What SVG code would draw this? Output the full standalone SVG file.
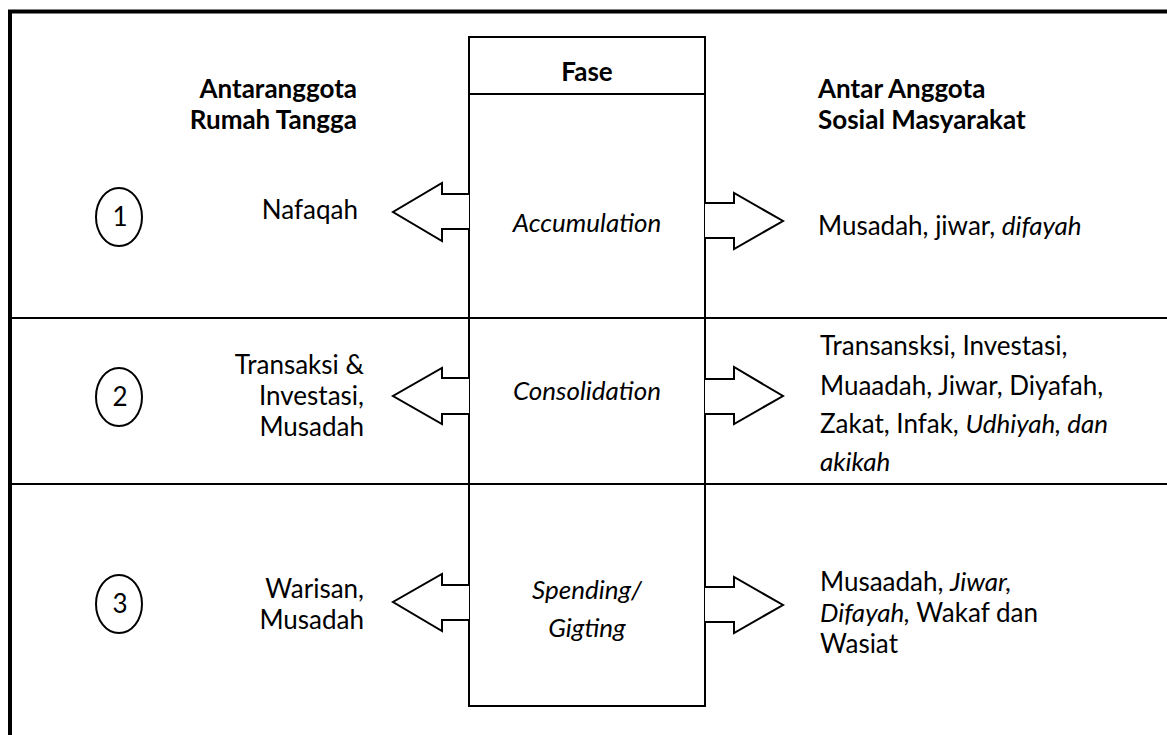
<svg xmlns="http://www.w3.org/2000/svg" width="1167" height="735" viewBox="0 0 1167 735">
<style>
.t{font-family:Lato,"Liberation Sans",sans-serif;font-size:26px;fill:#000}
.b{font-weight:bold}
.i{font-style:italic}
.e{text-anchor:end}
.m{text-anchor:middle}
.ln{stroke:#000;stroke-width:2;fill:none}
.ar{stroke:#000;stroke-width:2;fill:#fff;stroke-linejoin:miter}
.c{stroke:#000;stroke-width:2;fill:#fff}
</style>
<rect width="1167" height="735" fill="#fff"/>
<g id="frame">
<line x1="8" y1="11.5" x2="1167" y2="11.5" stroke="#000" stroke-width="4"/>
<line x1="10" y1="10" x2="10" y2="735" stroke="#000" stroke-width="4"/>
<line x1="12" y1="318" x2="1167" y2="318" class="ln"/>
<line x1="12" y1="484" x2="1167" y2="484" class="ln"/>
</g>
<g id="fase-box">
<rect x="469" y="37" width="236" height="669" class="ln"/>
<line x1="469" y1="94" x2="705" y2="94" class="ln"/>
<text x="587" y="81" class="t b m">Fase</text>
</g>
<g id="header-left"><text class="t b e"><tspan x="357" y="98">Antaranggota</tspan><tspan x="357" y="129">Rumah Tangga</tspan></text></g>
<g id="header-right"><text class="t b"><tspan x="818" y="98">Antar Anggota</tspan><tspan x="818" y="129">Sosial Masyarakat</tspan></text></g>
<g id="phase-1">
<ellipse cx="119" cy="217" rx="23" ry="29" class="c"/>
<text x="120" y="226" class="t m">1</text>
<text x="358" y="219" class="t e">Nafaqah</text>
<text x="587" y="232" class="t i m">Accumulation</text>
<text x="818" y="235" class="t">Musadah, jiwar, <tspan class="i">difayah</tspan></text>
</g>
<g id="phase-2">
<ellipse cx="119" cy="397" rx="23" ry="29" class="c"/>
<text x="120" y="406" class="t m">2</text>
<text class="t e"><tspan x="364" y="374">Transaksi &amp;</tspan><tspan x="364" y="405">Investasi,</tspan><tspan x="364" y="436">Musadah</tspan></text>
<text x="587" y="400" class="t i m">Consolidation</text>
<text class="t"><tspan x="820" y="355">Transansksi, Investasi,</tspan><tspan x="820" y="395">Muaadah, Jiwar, Diyafah,</tspan><tspan x="820" y="433">Zakat, Infak, <tspan class="i">Udhiyah, dan</tspan></tspan><tspan x="820" y="471" class="i">akikah</tspan></text>
</g>
<g id="phase-3">
<ellipse cx="119" cy="604" rx="23" ry="29" class="c"/>
<text x="120" y="613" class="t m">3</text>
<text class="t e"><tspan x="364" y="598">Warisan,</tspan><tspan x="364" y="629">Musadah</tspan></text>
<text class="t i m"><tspan x="587" y="599">Spending/</tspan><tspan x="587" y="637">Gigting</tspan></text>
<text class="t"><tspan x="820" y="591">Musaadah, <tspan class="i">Jiwar,</tspan></tspan><tspan x="820" y="622"><tspan class="i">Difayah,</tspan> Wakaf dan</tspan><tspan x="820" y="653">Wasiat</tspan></text>
</g>
<g id="connectors">
<polyline points="469,194 442,194 442,183 393,212 442,241 442,229 469,229" class="ar"/>
<polyline points="705,203 734,203 734,193 783,221 734,249 734,238 705,238" class="ar"/>
<polyline points="469,378 442,378 442,368 393,396 442,424 442,414 469,414" class="ar"/>
<polyline points="705,379 734,379 734,367 783,396 734,424 734,414 705,414" class="ar"/>
<polyline points="469,585 442,585 442,574 393,602 442,631 442,620 469,620" class="ar"/>
<polyline points="705,587 734,587 734,577 783,605 734,633 734,622 705,622" class="ar"/>
</g>
</svg>
